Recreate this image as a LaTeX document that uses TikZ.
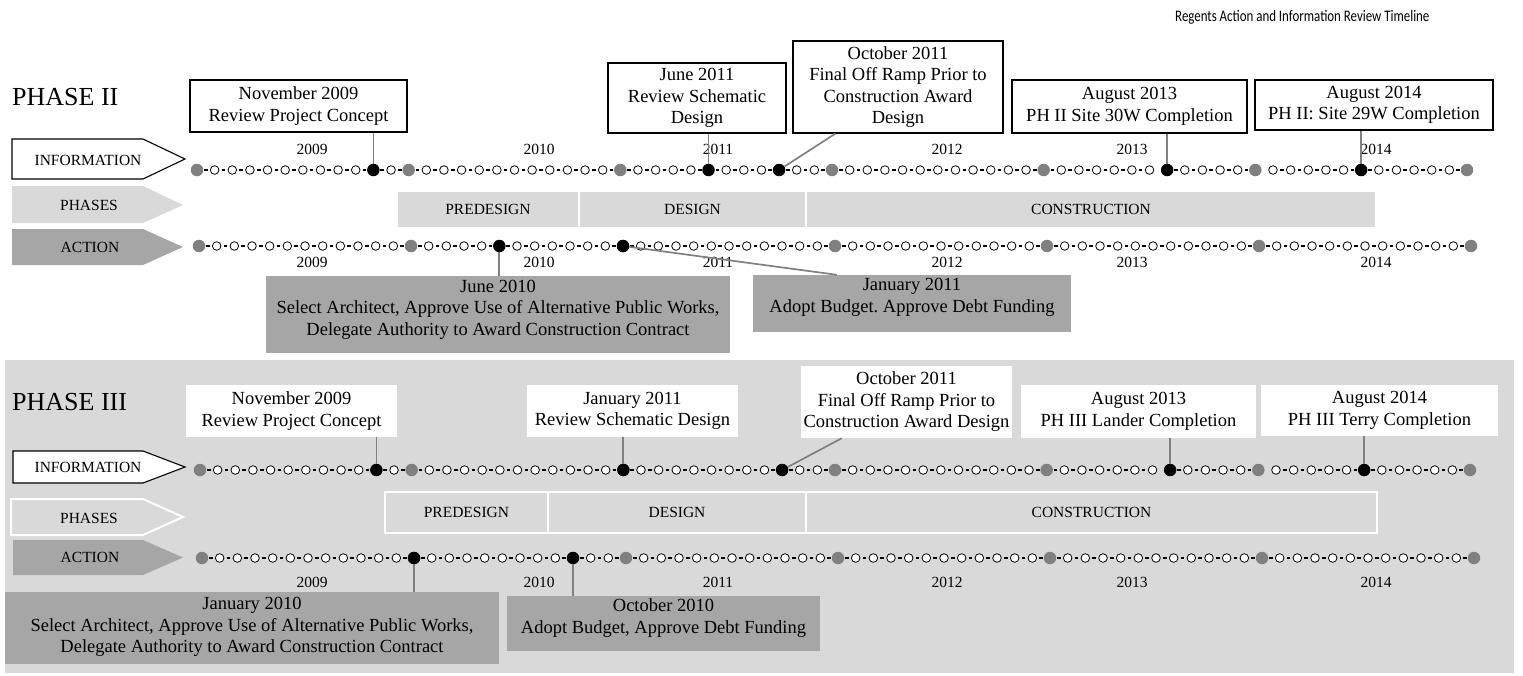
\documentclass[tikz,border=0pt]{standalone}
\usepackage{fontspec}
\usepackage{graphicx}
\setmainfont{Liberation Serif}
\newfontfamily\carlito{Carlito}
\usetikzlibrary{calc}
\frenchspacing
\definecolor{lg}{HTML}{D9D9D9}
\definecolor{dg}{HTML}{A6A6A6}
\definecolor{md}{HTML}{808080}
\tikzset{
  bigtxt/.style={font=\fontsize{18.5}{21.5}\selectfont, align=center},
  smalltxt/.style={font=\fontsize{15.5}{18}\selectfont},
  infobox/.style={draw=black, line width=1.1pt, fill=white, inner sep=0pt, bigtxt},
  wbox/.style={fill=white, inner sep=0pt, bigtxt},
  actbox/.style={fill=dg, inner sep=0pt},
  acttxt/.style={bigtxt, inner sep=0pt},
  phbar/.style={fill=lg, draw=white, line width=2.4pt, inner sep=0pt, smalltxt},
  conn/.style={draw=md, line width=1.7pt},
  odot/.style={circle, draw=black, line width=0.8pt, fill=white, minimum size=8.6pt, inner sep=0pt},
  gdot/.style={circle, fill=md, minimum size=12.5pt, inner sep=0pt},
  bdot/.style={circle, fill=black, minimum size=12.5pt, inner sep=0pt},
  dsh/.style={rectangle, fill=black, minimum width=3.6pt, minimum height=2.4pt, inner sep=0pt},
  whitearrow/.style={fill=white, draw=black, line width=1.1pt},
}
% box: name, x1, y1, x2, y2, style, text
\newcommand\bx[7]{\node[#6, minimum width={#4-#2}, minimum height={#5-#3}] (#1) at ({(#2+#4)/2},{(#3+#5)/2}) {#7};}
% timeline: prefix, x0, x1, y, skipped dash a, skipped dash b
\newcommand\tline[6]{%
  \pgfmathsetmacro\stp{(#3-#2)/72}%
  \foreach \i in {0,...,71}{%
    \ifnum\i=#5\relax\else\ifnum\i=#6\relax\else
      \node[dsh] (#1-d\i) at ({#2+\stp*(\i+0.5)},#4) {};
    \fi\fi}%
  \foreach \i in {0,...,72}{%
    \pgfmathtruncatemacro\m{mod(\i,12)}%
    \ifnum\m=0 \node[gdot] (#1-\i) at ({#2+\stp*\i},#4) {};%
    \else \node[odot] (#1-\i) at ({#2+\stp*\i},#4) {};\fi}%
}
\begin{document}
\begin{tikzpicture}[x=1pt, y=-1pt]
\useasboundingbox (0,0) rectangle (1523,675);
% Phase III background
\fill[lg] (5,360) rectangle (1514,673);

% title
\node[font=\carlito\fontsize{12.9}{16}\selectfont, anchor=west, inner sep=0pt] (title) at (1175,17) {\scalebox{1}[1.25]{Regents Action and Information Review Timeline}};

% ================= PHASE II =================
\node[font=\fontsize{26}{30}\selectfont, anchor=west, inner sep=0pt] (ph2) at (12,97) {PHASE II};
\filldraw[whitearrow] (12,139) -- (143,139) -- (185,159) -- (143,179) -- (12,179) -- cycle;
\node[smalltxt] (ph2info) at (88,160) {INFORMATION};
\fill[lg] (12,186) -- (143,186) -- (183,205) -- (143,223) -- (12,223) -- cycle;
\node[smalltxt] (ph2phases) at (89,205) {PHASES};
\fill[dg] (12,229) -- (143,229) -- (183,247) -- (143,265) -- (12,265) -- cycle;
\node[smalltxt] (ph2action) at (90,247) {ACTION};

% phase bar
\bx{p2pre}{397}{191}{579}{228}{phbar}{PREDESIGN}
\bx{p2des}{579}{191}{806}{228}{phbar}{DESIGN}
\bx{p2con}{806}{191}{1376}{228}{phbar}{CONSTRUCTION}

% info boxes
\bx{b1}{190}{80}{407}{132}{infobox}{November 2009\\Review Project Concept}
\bx{b2}{608}{63}{786}{133}{infobox}{June 2011\\Review Schematic\\Design}
\bx{b3}{793}{41}{1003}{133}{infobox}{October 2011\\Final Off Ramp Prior to\\Construction Award\\Design}
\bx{b4}{1012}{80}{1247}{133}{infobox}{August 2013\\PH II Site 30W Completion}
\bx{b5}{1255}{80}{1493}{130}{infobox}{August 2014\\PH II: Site 29W Completion}

% action boxes
\bx{a1}{266}{276}{730}{353}{actbox}{}
\node[acttxt] (a1t) at (498,309.5) {June 2010\\Select Architect, Approve Use of Alternative Public Works,\\Delegate Authority to Award Construction Contract};
\bx{a2}{753}{275}{1071}{332}{actbox}{}
\node[acttxt] (a2t) at (912,297.5) {January 2011\\Adopt Budget. Approve Debt Funding};

% timelines
\tline{p2i}{197}{1467}{170}{54}{60}
\tline{p2a}{199}{1471}{246}{-1}{-1}
\foreach \n/\k in {1/10,2/29,3/33,4/55,5/66} \node[bdot] (p2ie\n) at (p2i-\k) {};
\foreach \n/\k in {1/17,2/24} \node[bdot] (p2ae\n) at (p2a-\k) {};
\foreach \yr/\xx in {2009/312,2010/539,2011/718,2012/947,2013/1132,2014/1376}{
  \node[smalltxt] (p2iy\yr) at (\xx,149) {\yr};
  \node[smalltxt] (p2ay\yr) at (\xx,262) {\yr};
}

% connectors
\draw[conn] (b1.south -| p2ie1) -- (p2ie1);
\draw[conn] (b2.south -| p2ie2) -- (p2ie2);
\draw[conn] ($(b3.south west)+(43,0)$) -- (p2ie3);
\draw[conn] (b4.south -| p2ie4) -- (p2ie4);
\draw[conn] (b5.south -| p2ie5) -- (p2ie5);
\draw[conn] (p2ae1) -- (a1.north -| p2ae1);
\draw[conn] (p2ae2) -- ($(a2.north west)+(84,0)$);

% ================= PHASE III =================
\node[font=\fontsize{26}{30}\selectfont, anchor=west, inner sep=0pt] (ph3) at (12,402) {PHASE III};
\filldraw[whitearrow] (13,451) -- (143,451) -- (185,467) -- (143,483) -- (13,483) -- cycle;
\node[smalltxt] (ph3info) at (88,467) {INFORMATION};
\filldraw[fill=lg, draw=white, line width=2pt] (11,499) -- (143,499) -- (183,517) -- (143,535) -- (11,535) -- cycle;
\node[smalltxt] (ph3phases) at (89,518) {PHASES};
\fill[dg] (13,540) -- (143,540) -- (183,557.5) -- (143,575) -- (13,575) -- cycle;
\node[smalltxt] (ph3action) at (90,557.5) {ACTION};

\bx{p3pre}{385}{492}{548}{533}{phbar}{PREDESIGN}
\bx{p3des}{548}{492}{806}{533}{phbar}{DESIGN}
\bx{p3con}{806}{492}{1377}{533}{phbar}{CONSTRUCTION}

\bx{c1}{186}{385}{397}{437}{wbox}{November 2009\\Review Project Concept}
\bx{c2}{527}{385}{738}{437}{wbox}{January 2011\\Review Schematic Design}
\bx{c3}{801}{366}{1012}{438}{wbox}{October 2011\\Final Off Ramp Prior to\\Construction Award Design}
\bx{c4}{1021}{385}{1256}{438}{wbox}{August 2013\\PH III Lander Completion}
\bx{c5}{1261}{385}{1498}{436}{wbox}{August 2014\\PH III Terry Completion}

\bx{e1}{5}{592}{499}{664}{actbox}{}
\node[acttxt] (e1t) at (252,627) {January 2010\\Select Architect, Approve Use of Alternative Public Works,\\Delegate Authority to Award Construction Contract};
\bx{e2}{507}{596}{820}{651}{actbox}{}
\node[acttxt] (e2t) at (663.5,618) {October 2010\\Adopt Budget, Approve Debt Funding};

\tline{p3i}{200}{1470}{470}{54}{60}
\tline{p3a}{202}{1474}{558}{-1}{-1}
\foreach \n/\k in {1/10,2/24,3/33,4/55,5/66} \node[bdot] (p3ie\n) at (p3i-\k) {};
\foreach \n/\k in {1/12,2/21} \node[bdot] (p3ae\n) at (p3a-\k) {};
\foreach \yr/\xx in {2009/312,2010/539,2011/718,2012/947,2013/1132,2014/1376}{
  \node[smalltxt] (p3ay\yr) at (\xx,582) {\yr};
}

\draw[conn] (c1.south -| p3ie1) -- (p3ie1);
\draw[conn] (c2.south -| p3ie2) -- (p3ie2);
\draw[conn] ($(c3.south west)+(41,0)$) -- (p3ie3);
\draw[conn] (c4.south -| p3ie4) -- (p3ie4);
\draw[conn] (c5.south -| p3ie5) -- (p3ie5);
\draw[conn] (p3ae1) -- (e1.north -| p3ae1);
\draw[conn] (p3ae2) -- (e2.north -| p3ae2);
\end{tikzpicture}
\end{document}
